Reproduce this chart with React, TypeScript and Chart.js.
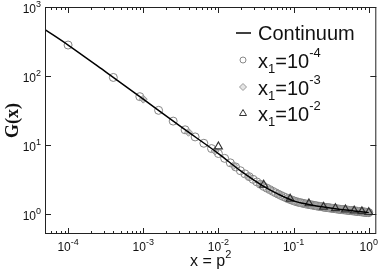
import React, { useEffect, useRef } from 'react';
import { Chart, registerables } from 'chart.js';

Chart.register(...registerables);

// Continuum curve
const continuumX = [4.93e-5, 1e-4, 3.16e-4, 1e-3, 3.16e-3, 0.01, 0.02, 0.04, 0.063, 0.079, 0.1, 0.126, 0.158, 0.251, 0.398, 0.631, 1.0];
const continuumG = [470, 281, 114.8, 46.2, 18.4, 7.52, 4.17, 2.51, 1.93, 1.72, 1.55, 1.445, 1.374, 1.259, 1.175, 1.109, 1.047];

// x1 = 1e-4 (circles)
const circX = [
  0.0001, 0.0004, 0.0009, 0.0016, 0.0025, 0.0036, 0.0049, 0.0064, 0.0081, 0.01,
  0.0121, 0.0144, 0.0169, 0.0196, 0.0225, 0.0256, 0.0289, 0.0324, 0.0361, 0.04,
  0.0441, 0.0484, 0.0529, 0.0576, 0.0625, 0.0676, 0.0729, 0.0784, 0.0841, 0.09,
  0.0961, 0.1024, 0.1089, 0.1156, 0.1225, 0.1296, 0.1369, 0.1444, 0.1521, 0.16,
  0.1681, 0.1764, 0.1849, 0.1936, 0.2025, 0.2116, 0.2209, 0.2304, 0.2401, 0.25,
  0.2601, 0.2704, 0.2809, 0.2916, 0.3025, 0.3136, 0.3249, 0.3364, 0.3481, 0.36,
  0.3721, 0.3844, 0.3969, 0.4096, 0.4225, 0.4356, 0.4489, 0.4624, 0.4761, 0.49,
  0.5041, 0.5184, 0.5329, 0.5476, 0.5625, 0.5776, 0.5929, 0.6084, 0.6241, 0.64,
  0.6561, 0.6724, 0.6889, 0.7056, 0.7225, 0.7396, 0.7569, 0.7744, 0.7921, 0.81,
  0.8281, 0.8464, 0.8649, 0.8836, 0.9025, 0.9216, 0.9409, 0.9604, 0.9801, 1.0,
];
const circG = [
  281, 95.3, 50.2, 31.8, 22.2, 16.6, 13.1, 10.6, 8.87, 7.52,
  6.40, 5.51, 4.81, 4.24, 3.82, 3.48, 3.18, 2.92, 2.70, 2.51,
  2.37, 2.25, 2.13, 2.03, 1.94, 1.86, 1.79, 1.73, 1.67, 1.62,
  1.58, 1.54, 1.51, 1.48, 1.46, 1.44, 1.42, 1.40, 1.39, 1.37,
  1.36, 1.35, 1.335, 1.32, 1.31, 1.30, 1.29, 1.28, 1.27, 1.26,
  1.252, 1.245, 1.238, 1.231, 1.225, 1.218, 1.211, 1.205, 1.199, 1.193,
  1.187, 1.181, 1.176, 1.171, 1.166, 1.161, 1.157, 1.153, 1.149, 1.145,
  1.141, 1.137, 1.133, 1.129, 1.125, 1.121, 1.118, 1.114, 1.110, 1.107,
  1.104, 1.100, 1.097, 1.094, 1.091, 1.088, 1.084, 1.081, 1.078, 1.075,
  1.072, 1.069, 1.067, 1.064, 1.061, 1.058, 1.055, 1.053, 1.050, 1.047,
];

// x1 = 1e-3 (diamonds)
const diamX = [
  0.001, 0.004, 0.009, 0.016, 0.025, 0.036, 0.049, 0.064, 0.081, 0.1,
  0.121, 0.144, 0.169, 0.196, 0.225, 0.256, 0.289, 0.324, 0.361, 0.4,
  0.441, 0.484, 0.529, 0.576, 0.625, 0.676, 0.729, 0.784, 0.841, 0.9, 0.961,
];
const diamG = [
  46.2, 15.3, 8.17, 5.04, 3.53, 2.71, 2.23, 1.91, 1.70, 1.55,
  1.46, 1.40, 1.36, 1.32, 1.285, 1.255, 1.233, 1.212, 1.192, 1.174,
  1.160, 1.147, 1.134, 1.122, 1.110, 1.100, 1.090, 1.080, 1.070, 1.061, 1.053,
];

// x1 = 1e-2 (triangles)
const triX = [0.01, 0.04, 0.09, 0.16, 0.25, 0.36, 0.49, 0.64, 0.81, 1.0];
const triG = [9.5, 2.65, 1.66, 1.42, 1.27, 1.21, 1.16, 1.12, 1.09, 1.06];

// Axis tick exponents
const xTickExps = [-4, -3, -2, -1, 0];
const yTickExps = [0, 1, 2, 3];

const X_MIN = 4.93e-5;
const X_MAX = 1.26;
const Y_MIN = 0.513;
const Y_MAX = 1000;

const SANS = '"Liberation Sans", Arial, Helvetica, sans-serif';

function pts(xs: number[], ys: number[]) {
  return xs.map((x, i) => ({ x, y: ys[i] }));
}

function drawPow(ctx: CanvasRenderingContext2D, base: string, exp: string, x: number, y: number, size: number, expSize: number, raise: number, align: 'center' | 'right' | 'left') {
  ctx.font = `${size}px ${SANS}`;
  const w1 = ctx.measureText(base).width;
  ctx.font = `${expSize}px ${SANS}`;
  const w2 = ctx.measureText(exp).width;
  const total = w1 + w2;
  let start = x;
  if (align === 'center') start = x - total / 2;
  else if (align === 'right') start = x - total;
  ctx.textAlign = 'left';
  ctx.textBaseline = 'alphabetic';
  ctx.font = `${size}px ${SANS}`;
  ctx.fillText(base, start, y);
  ctx.font = `${expSize}px ${SANS}`;
  ctx.fillText(exp, start + w1, y - raise);
}

const decorPlugin = {
  id: 'decor',
  afterDraw(chart: any) {
    const { ctx, chartArea: a, scales } = chart;
    const xs = scales.x;
    const ys = scales.y;
    ctx.save();
    ctx.strokeStyle = '#222';
    ctx.lineWidth = 1;
    ctx.strokeRect(a.left + 0.5, a.top + 0.5, a.right - a.left - 1, a.bottom - a.top - 1);

    // x ticks (major + minor), bottom and top, inward
    ctx.beginPath();
    for (let e = -5; e <= 0; e++) {
      for (let m = 1; m <= 9; m++) {
        const v = m * Math.pow(10, e);
        if (v < X_MIN || v > X_MAX) continue;
        const px = Math.round(xs.getPixelForValue(v)) + 0.5;
        const len = m === 1 ? 6 : 3;
        ctx.moveTo(px, a.bottom);
        ctx.lineTo(px, a.bottom - len);
        ctx.moveTo(px, a.top);
        ctx.lineTo(px, a.top + len);
      }
    }
    // y major ticks, left and right, inward
    for (const e of yTickExps) {
      const py = Math.round(ys.getPixelForValue(Math.pow(10, e))) + 0.5;
      ctx.moveTo(a.left, py);
      ctx.lineTo(a.left + 6, py);
      ctx.moveTo(a.right, py);
      ctx.lineTo(a.right - 6, py);
    }
    ctx.stroke();

    ctx.fillStyle = '#111';
    // x tick labels
    for (const e of xTickExps) {
      const px = xs.getPixelForValue(Math.pow(10, e));
      drawPow(ctx, '10', String(e), px, a.bottom + 17, 12, 9, 6, 'center');
    }
    // y tick labels
    for (const e of yTickExps) {
      const py = ys.getPixelForValue(Math.pow(10, e));
      drawPow(ctx, '10', String(e), a.left - 4, py + 6, 12, 9, 6, 'right');
    }

    // x axis title
    drawPow(ctx, 'x = p', '2', (a.left + a.right) / 2, 266, 16, 11, 8, 'center');

    // y axis title
    ctx.save();
    ctx.translate(13, (a.top + a.bottom) / 2);
    ctx.rotate(-Math.PI / 2);
    ctx.font = `bold 18px "Liberation Serif", "Times New Roman", serif`;
    ctx.textAlign = 'center';
    ctx.textBaseline = 'middle';
    ctx.fillText('G(x)', 0, 0);
    ctx.restore();

    // legend
    const mx = 243;
    const tx = 258;
    ctx.strokeStyle = '#000';
    ctx.lineWidth = 1.5;
    ctx.beginPath();
    ctx.moveTo(236, 33);
    ctx.lineTo(251, 33);
    ctx.stroke();
    ctx.font = `20px ${SANS}`;
    ctx.textAlign = 'left';
    ctx.fillText('Continuum', tx, 40);

    const rows = [
      { y: 60, exp: '-4', kind: 'circle' },
      { y: 87, exp: '-3', kind: 'diamond' },
      { y: 113, exp: '-2', kind: 'triangle' },
    ];
    for (const r of rows) {
      ctx.lineWidth = 1;
      ctx.beginPath();
      if (r.kind === 'circle') {
        ctx.strokeStyle = '#888';
        ctx.arc(mx, r.y, 3, 0, Math.PI * 2);
        ctx.stroke();
      } else if (r.kind === 'diamond') {
        ctx.strokeStyle = '#999';
        ctx.fillStyle = '#e4e4e4';
        ctx.moveTo(mx, r.y - 3.5);
        ctx.lineTo(mx + 3.5, r.y);
        ctx.lineTo(mx, r.y + 3.5);
        ctx.lineTo(mx - 3.5, r.y);
        ctx.closePath();
        ctx.fill();
        ctx.stroke();
      } else {
        ctx.strokeStyle = '#333';
        ctx.moveTo(mx, r.y - 3.5);
        ctx.lineTo(mx + 3.5, r.y + 2.5);
        ctx.lineTo(mx - 3.5, r.y + 2.5);
        ctx.closePath();
        ctx.stroke();
      }
      ctx.fillStyle = '#111';
      const base = r.y + 8;
      ctx.font = `20px ${SANS}`;
      ctx.fillText('x', tx, base);
      const wx = ctx.measureText('x').width;
      ctx.font = `13px ${SANS}`;
      ctx.fillText('1', tx + wx, base + 5);
      const w1 = ctx.measureText('1').width;
      drawPow(ctx, '=10', r.exp, tx + wx + w1, base, 20, 13, 11, 'left');
    }
    ctx.restore();
  },
};

export default function App() {
  const ref = useRef<HTMLCanvasElement | null>(null);
  useEffect(() => {
    if (!ref.current) return;
    const chart = new Chart(ref.current, {
      type: 'scatter',
      data: {
        datasets: [
          {
            label: 'Continuum',
            data: pts(continuumX, continuumG),
            showLine: true,
            borderColor: '#000',
            borderWidth: 1.5,
            pointRadius: 0,
            cubicInterpolationMode: 'monotone',
            order: 0,
          } as any,
          {
            label: 'x1=10^-2',
            data: pts(triX, triG),
            showLine: false,
            pointStyle: 'triangle',
            pointRadius: 4.5,
            borderColor: '#333',
            backgroundColor: 'rgba(0,0,0,0)',
            borderWidth: 1.2,
            order: 1,
          },
          {
            label: 'x1=10^-3',
            data: pts(diamX, diamG),
            showLine: false,
            pointStyle: 'rectRot',
            pointRadius: 4,
            borderColor: '#999',
            backgroundColor: 'rgba(170,170,170,0.6)',
            borderWidth: 1,
            order: 2,
          },
          {
            label: 'x1=10^-4',
            data: pts(circX, circG),
            showLine: false,
            pointStyle: 'circle',
            pointRadius: 4,
            borderColor: '#858585',
            backgroundColor: 'rgba(0,0,0,0)',
            borderWidth: 1,
            order: 3,
          },
        ],
      },
      options: {
        animation: false,
        responsive: false,
        events: [],
        layout: { padding: { left: 45, right: 2, top: 7, bottom: 39 } },
        plugins: { legend: { display: false }, tooltip: { enabled: false } },
        scales: {
          x: { type: 'logarithmic', min: X_MIN, max: X_MAX, display: false },
          y: { type: 'logarithmic', min: Y_MIN, max: Y_MAX, display: false },
        },
      },
      plugins: [decorPlugin],
    });
    return () => chart.destroy();
  }, []);
  return (
    <div style={{ position: 'fixed', left: 0, top: 0, width: 382, height: 273, background: '#fff' }}>
      <canvas ref={ref} width={382} height={273} />
    </div>
  );
}
